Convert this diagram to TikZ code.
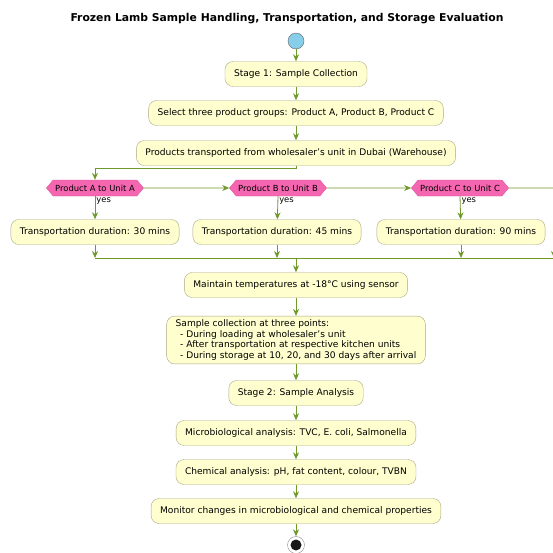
\documentclass[tikz,border=0pt]{standalone}
\usepackage{fontspec}
\setmainfont{DejaVu Sans}
\usetikzlibrary{positioning}
\usetikzlibrary{arrows.meta}
\usetikzlibrary{shapes.symbols}

\definecolor{boxfill}{HTML}{FEFECE}
\definecolor{boxline}{HTML}{A9A682}
\definecolor{flowgreen}{HTML}{6F9A2A}
\definecolor{hexfill}{HTML}{F466B0}
\definecolor{hexline}{HTML}{E0559E}
\definecolor{startblue}{HTML}{87CEEB}

\begin{document}
\begin{tikzpicture}[x=1pt, y=-1pt,
    act/.style={draw=boxline, fill=boxfill, rounded corners=8pt, minimum height=25pt,
        inner xsep=9pt, font=\fontsize{9.1}{10.8}\selectfont},
    hex/.style={shape=signal, signal to=west and east, signal pointer angle=100,
        draw=hexline, fill=hexfill, minimum height=16pt, inner xsep=2pt, inner ysep=0pt,
        font=\fontsize{8.4}{9}\selectfont},
    flow/.style={draw=flowgreen, line width=0.8pt, -{Stealth[length=7pt,width=6pt]}},
    wire/.style={draw=flowgreen, line width=0.8pt},
    yes/.style={right, inner sep=1pt, font=\fontsize{8.4}{9}\selectfont}]
    \useasboundingbox (0,0) rectangle (553,552);

    \node(title) at (287,19) {\fontsize{10.8}{12}\selectfont\bfseries Frozen Lamb Sample Handling, Transportation, and Storage Evaluation};
    \node(st) [circle, draw=black!60, fill=startblue, minimum size=16pt, inner sep=0pt] at (296,41) {};

    \node(s1) [act] at (296,74) {Stage 1: Sample Collection};
    \node(sel) [act] at (296,113) {Select three product groups: Product A, Product B, Product C};
    \node(tr) [act] at (296,153) {Products transported from wholesaler's unit in Dubai (Warehouse)};

    \node(pa) [hex] at (95,188) {Product A to Unit A};
    \node(pb) [hex] at (278,188) {Product B to Unit B};
    \node(pc) [hex] at (460,188) {Product C to Unit C};
    \coordinate(ce) at (560,188);

    \node(da) [act] at (95,232) {Transportation duration: 30 mins};
    \node(db) [act] at (277,232) {Transportation duration: 45 mins};
    \node(dc) [act] at (461,232) {Transportation duration: 90 mins};

    \coordinate(mg) at (296,258);
    \coordinate(me) at (560,258);
    \coordinate(ee) at (554,238);

    \node(mt) [act] at (296,285) {Maintain temperatures at -18°C using sensor};
    \node(sc) [act, align=left] at (296,340) {Sample collection at three points:\\
        \hspace*{0.5em}- During loading at wholesaler's unit\\
        \hspace*{0.5em}- After transportation at respective kitchen units\\
        \hspace*{0.5em}- During storage at 10, 20, and 30 days after arrival};
    \node(s2) [act] at (296,393) {Stage 2: Sample Analysis};
    \node(mb) [act] at (296,433) {Microbiological analysis: TVC, E. coli, Salmonella};
    \node(ch) [act] at (296,472) {Chemical analysis: pH, fat content, colour, TVBN};
    \node(mo) [act] at (296,511) {Monitor changes in microbiological and chemical properties};
    \node(en) [circle, draw=black!45, fill=white, minimum size=17pt, inner sep=0pt] at (296,545) {};
    \fill[black!90] (en) circle (5.5pt);

    \draw[flow] (st) -- (s1);
    \draw[flow] (s1) -- (sel);
    \draw[flow] (sel) -- (tr);
    \draw[flow] (tr.south) -- ++(0,3) -| (pa.north);
    \draw[flow] (pa) -- (pb);
    \draw[flow] (pb) -- (pc);
    \draw[wire] (pc) -- (ce);

    \draw[flow] (pa.south) -- node[yes, pos=0.2] {yes} (da);
    \draw[flow] (pb.south) -- node[yes, pos=0.2] {yes} (db);
    \draw[flow] (pc.south) -- node[yes, pos=0.2] {yes} (dc);

    \draw[flow] (da) -- (da |- mg);
    \draw[flow] (db) -- (db |- mg);
    \draw[flow] (dc) -- (dc |- mg);
    \draw[flow] (ee) -- (ee |- mg);
    \draw[wire] (da |- mg) -- (me);

    \draw[flow] (mg) -- (mt);
    \draw[flow] (mt) -- (sc);
    \draw[flow] (sc) -- (s2);
    \draw[flow] (s2) -- (mb);
    \draw[flow] (mb) -- (ch);
    \draw[flow] (ch) -- (mo);
    \draw[flow] (mo) -- (en);
\end{tikzpicture}
\end{document}
